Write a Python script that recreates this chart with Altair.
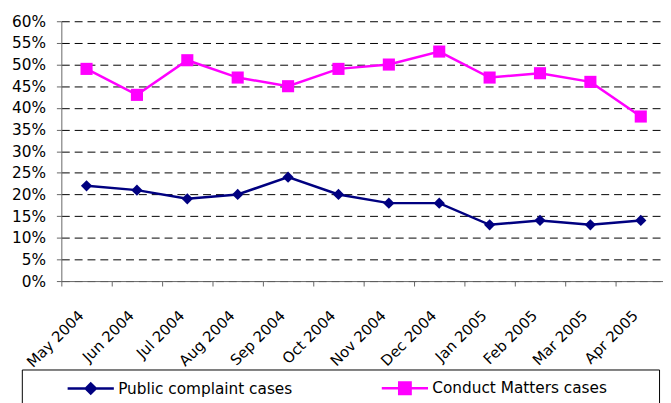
import altair as alt
import pandas as pd

MONTHS = ["May 2004", "Jun 2004", "Jul 2004", "Aug 2004", "Sep 2004", "Oct 2004",
          "Nov 2004", "Dec 2004", "Jan 2005", "Feb 2005", "Mar 2005", "Apr 2005"]
PUBLIC = [22, 21, 19, 20, 24, 20, 18, 18, 13, 14, 13, 14]
CONDUCT = [49, 43, 51, 47, 45, 49, 50, 53, 47, 48, 46, 38]
SERIES = ["Public complaint cases", "Conduct Matters cases"]
COLORS = ["#000080", "#FF00FF"]
MARKERS = ["diamond", "square"]
MARKER_SIZES = [130, 150]
Y_TICKS = [0, 5, 10, 15, 20, 25, 30, 35, 40, 45, 50, 55, 60]

FONT = "DejaVu Sans"

rows = []
for m, p, c in zip(MONTHS, PUBLIC, CONDUCT):
    rows.append({"month": m, "series": SERIES[0], "value": p})
    rows.append({"month": m, "series": SERIES[1], "value": c})
df = pd.DataFrame(rows)

# legend symbols: line through a marker
LEGEND_SHAPES = [
    "M-3.9,0L3.9,0M-0.85,0L0,-0.85L0.85,0L0,0.85Z",
    "M-3.9,0L3.9,0M-0.96,-0.96L0.96,-0.96L0.96,0.96L-0.96,0.96Z",
]

x_enc = alt.X(
    "month:N",
    sort=MONTHS,
    scale=alt.Scale(type="band", domain=MONTHS, range=[0, 612], paddingInner=0, paddingOuter=0),
    axis=alt.Axis(
        title=None, labelAngle=-45, labelAlign="right", labelBaseline="middle",
        labelOffset=-6, labelPadding=27, tickBand="extent", tickSize=5, grid=False,
        domainColor="#666666", tickColor="#666666", labelFont=FONT, labelFontSize=15,
        labelColor="black",
    ),
)
y_enc = alt.Y(
    "value:Q",
    scale=alt.Scale(domain=[0, 60], nice=False, zero=True),
    axis=alt.Axis(
        title=None, values=Y_TICKS, labelExpr="datum.value + '%'", grid=True,
        gridDash=[8, 5], gridColor="black", gridWidth=1, tickSize=5, labelPadding=11,
        domainColor="#666666", tickColor="#666666", labelFont=FONT, labelFontSize=15.5,
        labelColor="black",
    ),
)

base = alt.Chart(df)

layers = []
for s, col in zip(SERIES, COLORS):
    layers.append(
        base.transform_filter(alt.datum.series == s)
        .mark_line(strokeWidth=2.5, color=col)
        .encode(x=x_enc, y=y_enc)
    )
for s, col, mk, sz in zip(SERIES, COLORS, MARKERS, MARKER_SIZES):
    layers.append(
        base.transform_filter(alt.datum.series == s)
        .mark_point(shape=mk, filled=True, size=sz, opacity=1, color=col)
        .encode(x=x_enc, y=y_enc)
    )

# trailing blank padding (kept from trimming by a final blank braille cell)
TAIL = "\u00a0" * 6 + "\u2800"
leg = alt.Legend(
    title=None, orient="none", legendX=-40, legendY=352.5, direction="horizontal",
    symbolSize=144, symbolStrokeWidth=2.5, symbolOffset=51, labelOffset=20,
    columnPadding=55, padding=11, strokeColor="black", fillColor="white",
    labelFont=FONT, labelFontSize=15.5, labelColor="black", labelLimit=400,
    labelExpr="datum.label == '" + SERIES[1] + "' ? datum.label + '" + TAIL + "' : datum.label",
)

legend_layer = base.transform_filter("false").mark_point(
    filled=True, opacity=1, strokeWidth=2.5
).encode(
    fill=alt.Fill("series:N", scale=alt.Scale(domain=SERIES, range=COLORS), legend=leg),
    stroke=alt.Stroke("series:N", scale=alt.Scale(domain=SERIES, range=COLORS), legend=leg),
    shape=alt.Shape("series:N", scale=alt.Scale(domain=SERIES, range=LEGEND_SHAPES), legend=leg),
)
layers.append(legend_layer)

chart = alt.layer(*layers).properties(
    width=609, height=263,
    padding={"left": 54, "top": 11, "right": 0, "bottom": 121},
    autosize=alt.AutoSizeParams(type="none"),
).configure_view(stroke=None)

chart.save("out.html", embed_options={"renderer": "svg", "actions": False})
